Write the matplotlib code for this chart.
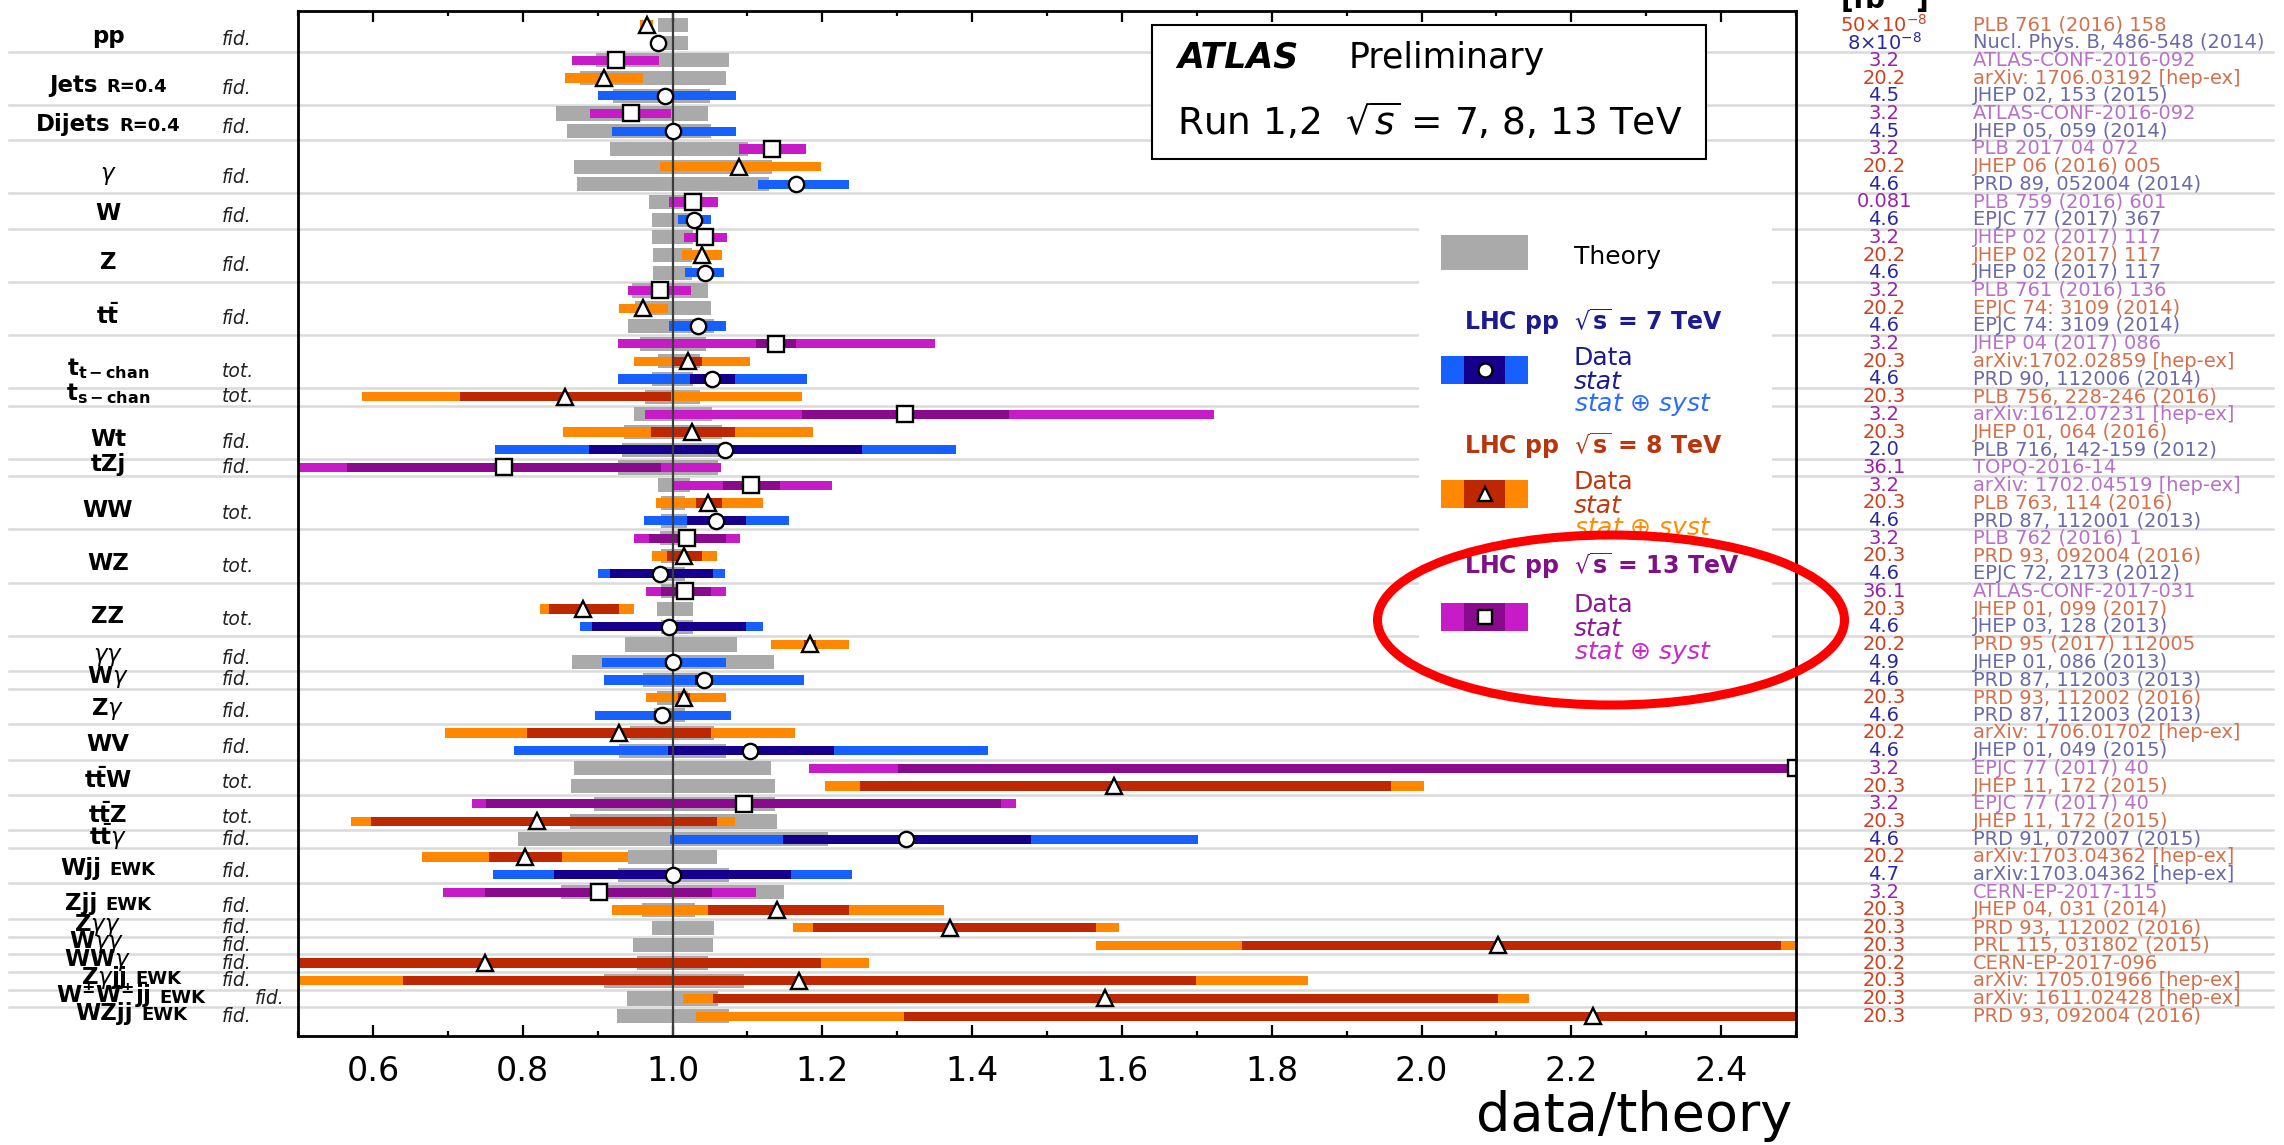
import numpy as np
import matplotlib
matplotlib.use("Agg")
import matplotlib.pyplot as plt
import matplotlib.transforms as mtransforms
from matplotlib.patches import Rectangle, Ellipse
from matplotlib.lines import Line2D
from matplotlib.offsetbox import TextArea, HPacker, AnnotationBbox
from matplotlib.ticker import FormatStrFormatter, FixedLocator, MultipleLocator

plt.rcParams["font.family"] = ["DejaVu Sans"]
plt.rcParams["mathtext.fontset"] = "dejavusans"

# ---------------------------------------------------------------- groups
group_main = ["pp", "Jets", "Dijets", r"$\gamma$", "W", "Z", r"$\mathbf{t\bar{t}}$",
              r"$\mathbf{t_{t-chan}}$", r"$\mathbf{t_{s-chan}}$", "Wt", "tZj",
              "WW", "WZ", "ZZ", r"$\gamma\gamma$", r"$\mathbf{W}\gamma$", r"$\mathbf{Z}\gamma$",
              "WV", r"$\mathbf{t\bar{t}W}$", r"$\mathbf{t\bar{t}Z}$", r"$\mathbf{t\bar{t}}\gamma$",
              "Wjj", "Zjj", r"$\mathbf{Z}\gamma\gamma$", r"$\mathbf{W}\gamma\gamma$",
              r"$\mathbf{WW}\gamma$", r"$\mathbf{Z}\gamma\mathbf{jj}$",
              r"$\mathbf{W^{\pm}W^{\pm}jj}$", "WZjj"]
group_suffix = ["", "R=0.4", "R=0.4", "", "", "", "", "", "", "", "",
                "", "", "", "", "", "", "", "", "", "",
                "EWK", "EWK", "", "", "", "EWK", "EWK", "EWK"]
group_kind = ["fid.", "fid.", "fid.", "fid.", "fid.", "fid.", "fid.", "tot.", "tot.", "fid.", "fid.",
              "tot.", "tot.", "tot.", "fid.", "fid.", "fid.", "fid.", "tot.", "tot.", "fid.",
              "fid.", "fid.", "fid.", "fid.", "fid.", "fid.", "fid.", "fid."]
group_size = [2, 3, 2, 3, 2, 3, 3, 3, 1, 3, 1, 3, 3, 3, 2, 1, 2, 2, 2, 2, 1, 2, 2, 1, 1, 1, 1, 1, 1]

# ---------------------------------------------------------------- measurements
energy = [8, 7, 13, 8, 7, 13, 7, 13, 8, 7, 13, 7, 13, 8, 7, 13, 8, 7, 13, 8, 7, 8,
          13, 8, 7, 13, 13, 8, 7, 13, 8, 7, 13, 8, 7, 8, 7, 7, 8, 7, 8, 7,
          13, 8, 13, 8, 7, 8, 7, 13, 8, 8, 8, 8, 8, 8, 8]
ratio = [0.966, 0.980, 0.924, 0.908, 0.990, 0.944, 1.000, 1.133, 1.089, 1.165,
         1.028, 1.029, 1.044, 1.039, 1.043, 0.983, 0.960, 1.034, 1.138, 1.021,
         1.053, 0.856, 1.310, 1.026, 1.070, 0.775, 1.105, 1.048, 1.058, 1.019,
         1.016, 0.983, 1.017, 0.881, 0.995, 1.184, 1.000, 1.042, 1.016, 0.986,
         0.929, 1.104, 2.500, 1.590, 1.095, 0.819, 1.312, 0.803, 1.000, 0.902,
         1.140, 1.370, 2.102, 0.750, 1.169, 1.578, 2.229]
stat_lo = [0.963, 0.977, 0.918, 0.903, 0.986, 0.938, 0.995, 1.128, 1.085, 1.160,
           1.020, 1.027, 1.041, 1.037, 1.041, 0.978, 0.958, 1.031, 1.112, 1.001,
           1.023, 0.716, 1.173, 0.971, 0.888, 0.565, 1.068, 1.032, 1.019, 0.969,
           0.992, 0.917, 0.984, 0.835, 0.893, 1.176, 0.990, 1.030, 1.008, 0.975,
           0.806, 0.994, 1.301, 1.251, 0.751, 0.598, 1.147, 0.755, 0.842, 0.750,
           1.047, 1.187, 1.760, 0.400, 0.640, 1.054, 1.309]
stat_hi = [0.969, 0.983, 0.930, 0.913, 0.994, 0.950, 1.005, 1.138, 1.093, 1.170,
           1.036, 1.031, 1.047, 1.041, 1.045, 0.988, 0.962, 1.037, 1.165, 1.039,
           1.083, 0.998, 1.449, 1.083, 1.253, 0.985, 1.144, 1.066, 1.098, 1.071,
           1.040, 1.054, 1.052, 0.929, 1.098, 1.192, 1.010, 1.054, 1.024, 0.997,
           1.052, 1.216, 3.500, 1.959, 1.439, 1.059, 1.478, 0.853, 1.158, 1.053,
           1.235, 1.566, 2.480, 1.198, 1.699, 2.102, 3.200]
tot_lo = [0.957, 0.975, 0.866, 0.857, 0.901, 0.890, 0.919, 1.089, 0.983, 1.114,
          0.995, 1.008, 1.016, 1.013, 1.017, 0.941, 0.928, 0.995, 0.927, 0.948,
          0.927, 0.586, 0.963, 0.854, 0.763, 0.450, 1.001, 0.978, 0.962, 0.949,
          0.973, 0.900, 0.964, 0.823, 0.877, 1.131, 0.906, 0.909, 0.964, 0.897,
          0.696, 0.788, 1.182, 1.203, 0.732, 0.571, 0.996, 0.665, 0.761, 0.693,
          0.919, 1.161, 1.566, 0.300, 0.300, 1.014, 1.031]
tot_hi = [0.974, 0.985, 0.982, 0.960, 1.085, 0.998, 1.085, 1.178, 1.198, 1.236,
          1.061, 1.052, 1.073, 1.066, 1.069, 1.025, 0.994, 1.072, 1.350, 1.103,
          1.179, 1.173, 1.723, 1.187, 1.378, 1.065, 1.213, 1.121, 1.155, 1.090,
          1.059, 1.070, 1.071, 0.948, 1.121, 1.235, 1.071, 1.176, 1.071, 1.078,
          1.163, 1.421, 3.600, 2.004, 1.459, 1.083, 1.702, 0.941, 1.239, 1.111,
          1.363, 1.596, 2.600, 1.263, 1.849, 2.144, 3.300]
theory_lo = [0.980, 0.980, 0.898, 0.877, 0.920, 0.844, 0.859, 0.917, 0.868, 0.872,
             0.969, 0.972, 0.972, 0.974, 0.974, 0.946, 0.950, 0.940, 0.956, 0.980,
             0.972, 0.963, 0.948, 0.935, 0.932, 0.927, 0.980, 0.985, 0.984, 0.983,
             0.985, 0.985, 0.985, 0.979, 0.985, 0.937, 0.866, 0.961, 0.979, 0.975,
             0.943, 0.929, 0.869, 0.864, 0.895, 0.863, 0.794, 0.941, 0.927, 0.851,
             0.959, 0.972, 0.947, 0.952, 0.908, 0.939, 0.926]
theory_hi = [1.021, 1.021, 1.076, 1.072, 1.050, 1.048, 1.052, 1.101, 1.133, 1.129,
             1.031, 1.028, 1.028, 1.026, 1.026, 1.047, 1.052, 1.055, 1.045, 1.037,
             1.027, 1.037, 1.053, 1.066, 1.063, 1.061, 1.024, 1.017, 1.019, 1.021,
             1.017, 1.017, 1.017, 1.028, 1.027, 1.086, 1.135, 1.040, 1.021, 1.017,
             1.056, 1.071, 1.132, 1.137, 1.137, 1.139, 1.207, 1.059, 1.076, 1.149,
             1.030, 1.055, 1.054, 1.047, 1.095, 1.061, 1.076]
lumi = [r"50$\times$10$^{-8}$", r"8$\times$10$^{-8}$", "3.2", "20.2", "4.5", "3.2", "4.5",
        "3.2", "20.2", "4.6", "0.081", "4.6", "3.2", "20.2", "4.6", "3.2", "20.2", "4.6",
        "3.2", "20.3", "4.6", "20.3", "3.2", "20.3", "2.0", "36.1", "3.2", "20.3", "4.6",
        "3.2", "20.3", "4.6", "36.1", "20.3", "4.6", "20.2", "4.9", "4.6", "20.3", "4.6",
        "20.2", "4.6", "3.2", "20.3", "3.2", "20.3", "4.6", "20.2", "4.7", "3.2", "20.3",
        "20.3", "20.3", "20.2", "20.3", "20.3", "20.3"]
reference = ["PLB 761 (2016) 158", "Nucl. Phys. B, 486-548 (2014)",
             "ATLAS-CONF-2016-092", "arXiv: 1706.03192 [hep-ex]", "JHEP 02, 153 (2015)",
             "ATLAS-CONF-2016-092", "JHEP 05, 059 (2014)",
             "PLB 2017 04 072", "JHEP 06 (2016) 005", "PRD 89, 052004 (2014)",
             "PLB 759 (2016) 601", "EPJC 77 (2017) 367",
             "JHEP 02 (2017) 117", "JHEP 02 (2017) 117", "JHEP 02 (2017) 117",
             "PLB 761 (2016) 136", "EPJC 74: 3109 (2014)", "EPJC 74: 3109 (2014)",
             "JHEP 04 (2017) 086", "arXiv:1702.02859 [hep-ex]", "PRD 90, 112006 (2014)",
             "PLB 756, 228-246 (2016)",
             "arXiv:1612.07231 [hep-ex]", "JHEP 01, 064 (2016)", "PLB 716, 142-159 (2012)",
             "TOPQ-2016-14",
             "arXiv: 1702.04519 [hep-ex]", "PLB 763, 114 (2016)", "PRD 87, 112001 (2013)",
             "PLB 762 (2016) 1", "PRD 93, 092004 (2016)", "EPJC 72, 2173 (2012)",
             "ATLAS-CONF-2017-031", "JHEP 01, 099 (2017)", "JHEP 03, 128 (2013)",
             "PRD 95 (2017) 112005", "JHEP 01, 086 (2013)",
             "PRD 87, 112003 (2013)",
             "PRD 93, 112002 (2016)", "PRD 87, 112003 (2013)",
             "arXiv: 1706.01702 [hep-ex]", "JHEP 01, 049 (2015)",
             "EPJC 77 (2017) 40", "JHEP 11, 172 (2015)",
             "EPJC 77 (2017) 40", "JHEP 11, 172 (2015)",
             "PRD 91, 072007 (2015)",
             "arXiv:1703.04362 [hep-ex]", "arXiv:1703.04362 [hep-ex]",
             "CERN-EP-2017-115", "JHEP 04, 031 (2014)",
             "PRD 93, 112002 (2016)", "PRL 115, 031802 (2015)", "CERN-EP-2017-096",
             "arXiv: 1705.01966 [hep-ex]", "arXiv: 1611.02428 [hep-ex]",
             "PRD 93, 092004 (2016)"]
energies = [7, 8, 13]

# ---------------------------------------------------------------- styles
STYLE = {
    7:  dict(tot="#1560ff", stat="#14008c", marker="o", lumi="#2828a0", ref="#6a6aaa",
             head="#1c1a8e", data="#1c1a8e", syst="#2a6cff"),
    8:  dict(tot="#ff8800", stat="#be2800", marker="^", lumi="#d0401c", ref="#d4704c",
             head="#b8360e", data="#c0380e", syst="#ff8c00"),
    13: dict(tot="#c81bc8", stat="#890a8c", marker="s", lumi="#9a22a8", ref="#b870c8",
             head="#7e1088", data="#8a1a94", syst="#c82ac8"),
}
THEORY = "#aaaaaa"

W, H = 2284, 1145
fig = plt.figure(figsize=(W / 100, H / 100), dpi=100)
fig.patch.set_facecolor("white")

AX_L, AX_R, AX_T, AX_B = 298, 1796, 11, 1036
ROW0, ROW_STEP = 25.0, 17.7
ax = fig.add_axes([AX_L / W, 1 - AX_B / H, (AX_R - AX_L) / W, (AX_B - AX_T) / H])

# pixel coordinates measured from the top-left corner of the figure
px = mtransforms.Affine2D().scale(1 / W, -1 / H).translate(0, 1) + fig.transFigure
row_tr = mtransforms.blended_transform_factory(px, ax.transData)

n = len(ratio)
y = np.arange(n)
ratio_a = np.array(ratio)
energy_a = np.array(energy)
st_lo, st_hi = np.array(stat_lo), np.array(stat_hi)
tt_lo, tt_hi = np.array(tot_lo), np.array(tot_hi)
th_lo, th_hi = np.array(theory_lo), np.array(theory_hi)

ax.barh(y, th_hi - th_lo, left=th_lo, height=0.80, color=THEORY, linewidth=0, zorder=1.5)
for e in energies:
    m = energy_a == e
    s = STYLE[e]
    ax.barh(y[m], tt_hi[m] - tt_lo[m], left=tt_lo[m], height=0.52, color=s["tot"],
            linewidth=0, zorder=2)
    ax.barh(y[m], st_hi[m] - st_lo[m], left=st_lo[m], height=0.52, color=s["stat"],
            linewidth=0, zorder=2.5)
ax.axvline(1.0, color="#3c3c3c", lw=1.6, zorder=4)
for e in energies:
    m = energy_a == e
    ax.plot(ratio_a[m], y[m], ls="none", marker=STYLE[e]["marker"], ms=11,
            mfc="white", mec="black", mew=1.7, zorder=5)

ax.set_xlim(0.5, 2.5)
ax.set_ylim((AX_B - ROW0) / ROW_STEP, (AX_T - ROW0) / ROW_STEP)
ax.set_yticks([])
ax.xaxis.set_major_locator(FixedLocator(np.round(np.arange(0.6, 2.41, 0.2), 1)))
ax.xaxis.set_minor_locator(MultipleLocator(0.1))
ax.xaxis.set_major_formatter(FormatStrFormatter("%.1f"))
ax.tick_params(axis="x", which="both", direction="in", top=True, bottom=True)
ax.tick_params(axis="x", which="major", length=8, width=1.6, labelsize=24, pad=14)
ax.tick_params(axis="x", which="minor", length=3.5, width=1.6)
for sp in ax.spines.values():
    sp.set_linewidth(2.0)
    sp.set_zorder(6)

# separators between measurement groups
bounds = np.cumsum(group_size)[:-1]
for b in bounds:
    ax.add_artist(Line2D([9, 2273], [b - 0.5, b - 0.5], transform=row_tr, color="#dadada",
                         lw=1.8, zorder=0.5, clip_on=False))

# group labels on the left
starts = np.concatenate([[0], np.cumsum(group_size)[:-1]])
label_x = [108] * len(group_size)
kind_x = [222] * len(group_size)
for gi, name in enumerate(group_main):
    if name in (r"$\mathbf{Z}\gamma\gamma$", r"$\mathbf{W}\gamma\gamma$", r"$\mathbf{WW}\gamma$"):
        label_x[gi] = 97
    if group_suffix[gi] == "EWK" and name not in ("Wjj", "Zjj"):
        label_x[gi] = 131
    if name == r"$\mathbf{W^{\pm}W^{\pm}jj}$":
        kind_x[gi] = 255

for gi in range(len(group_size)):
    k = group_size[gi]
    mean = starts[gi] + (k - 1) / 2
    yc = mean + 0.6 * (k - 1) / 2
    parts = [TextArea(group_main[gi], textprops=dict(fontsize=16.5, fontweight="bold",
                                                     color="black"))]
    if group_suffix[gi]:
        parts.append(TextArea(group_suffix[gi], textprops=dict(fontsize=13, fontweight="bold",
                                                               color="black")))
    box = HPacker(children=parts, align="baseline", pad=0, sep=6)
    ab = AnnotationBbox(box, (label_x[gi], yc - 0.17), xycoords=row_tr,
                        box_alignment=(0.5, 0.5), frameon=False, pad=0,
                        annotation_clip=False)
    fig.add_artist(ab)
    fig.text(kind_x[gi], yc, group_kind[gi], transform=row_tr, ha="left", va="center",
             style="italic", fontsize=13.5, color="#222222")

# luminosity and reference columns
for i in range(n):
    s = STYLE[energy[i]]
    fig.text(1884, i, lumi[i], transform=row_tr, ha="center", va="center",
             fontsize=14, color=s["lumi"])
    fig.text(1973, i, reference[i], transform=row_tr, ha="left", va="center",
             fontsize=14, color=s["ref"])
fig.text(1884, 9, r"[fb$^{\mathbf{-1}}$]", transform=px, ha="center", va="baseline",
         fontsize=20, fontweight="bold", color="black")

# experiment box
fig.add_artist(Rectangle((1152, 25), 554, 134, transform=px, facecolor="white",
                         edgecolor="black", lw=1.5, zorder=3))
fig.text(1177, 58, "ATLAS", transform=px, ha="left", va="center", fontsize=25,
         fontweight="bold", style="italic", zorder=4)
fig.text(1349, 58, "Preliminary", transform=px, ha="left", va="center", fontsize=25, zorder=4)
fig.text(1177, 122, r"Run 1,2  $\sqrt{s}$ = 7, 8, 13 TeV", transform=px, ha="left",
         va="center", fontsize=27, zorder=4)

# legend
fig.add_artist(Rectangle((1419, 205), 353, 450, transform=px, facecolor="white",
                         edgecolor="none", zorder=3))
fig.add_artist(Rectangle((1441, 235), 87, 35, transform=px, facecolor=THEORY,
                         edgecolor="none", zorder=4))
fig.text(1574, 257, "Theory", transform=px, ha="left", va="center", fontsize=18, zorder=4)
legend_rows = [(7, 322, 370), (8, 446, 494), (13, 566, 617)]
for e, y_head, y_sw in legend_rows:
    s = STYLE[e]
    fig.text(1464, y_head, r"LHC pp  $\sqrt{\mathbf{s}}$ = %d TeV" % e, transform=px,
             ha="left", va="center", fontsize=17, fontweight="bold", color=s["head"], zorder=4)
    fig.add_artist(Rectangle((1441, y_sw - 14), 87, 28, transform=px, facecolor=s["tot"],
                             edgecolor="none", zorder=4))
    fig.add_artist(Rectangle((1464, y_sw - 14), 41, 28, transform=px, facecolor=s["stat"],
                             edgecolor="none", zorder=4.5))
    fig.add_artist(Line2D([1484.5], [y_sw], transform=px, ls="none", marker=s["marker"],
                          ms=10, mfc="white", mec="black", mew=1.7, zorder=5))
    fig.text(1574, y_sw - 12, "Data", transform=px, ha="left", va="center", fontsize=18,
             color=s["data"], zorder=4)
    fig.text(1574, y_sw + 12, "stat", transform=px, ha="left", va="center", fontsize=18,
             style="italic", color=s["data"], zorder=4)
    fig.text(1574, y_sw + 35, r"stat $\oplus$ syst", transform=px, ha="left", va="center",
             fontsize=18, style="italic", color=s["syst"], zorder=4)

# highlight around the 13 TeV entry
fig.add_artist(Ellipse((1611, 620), 467, 170, transform=px, fill=False, edgecolor="#ff0000",
                       lw=6.5, zorder=8))

fig.text(1792, 1131, "data/theory", transform=px, ha="right", va="baseline", fontsize=39)

fig.savefig("out.png", dpi=100)
